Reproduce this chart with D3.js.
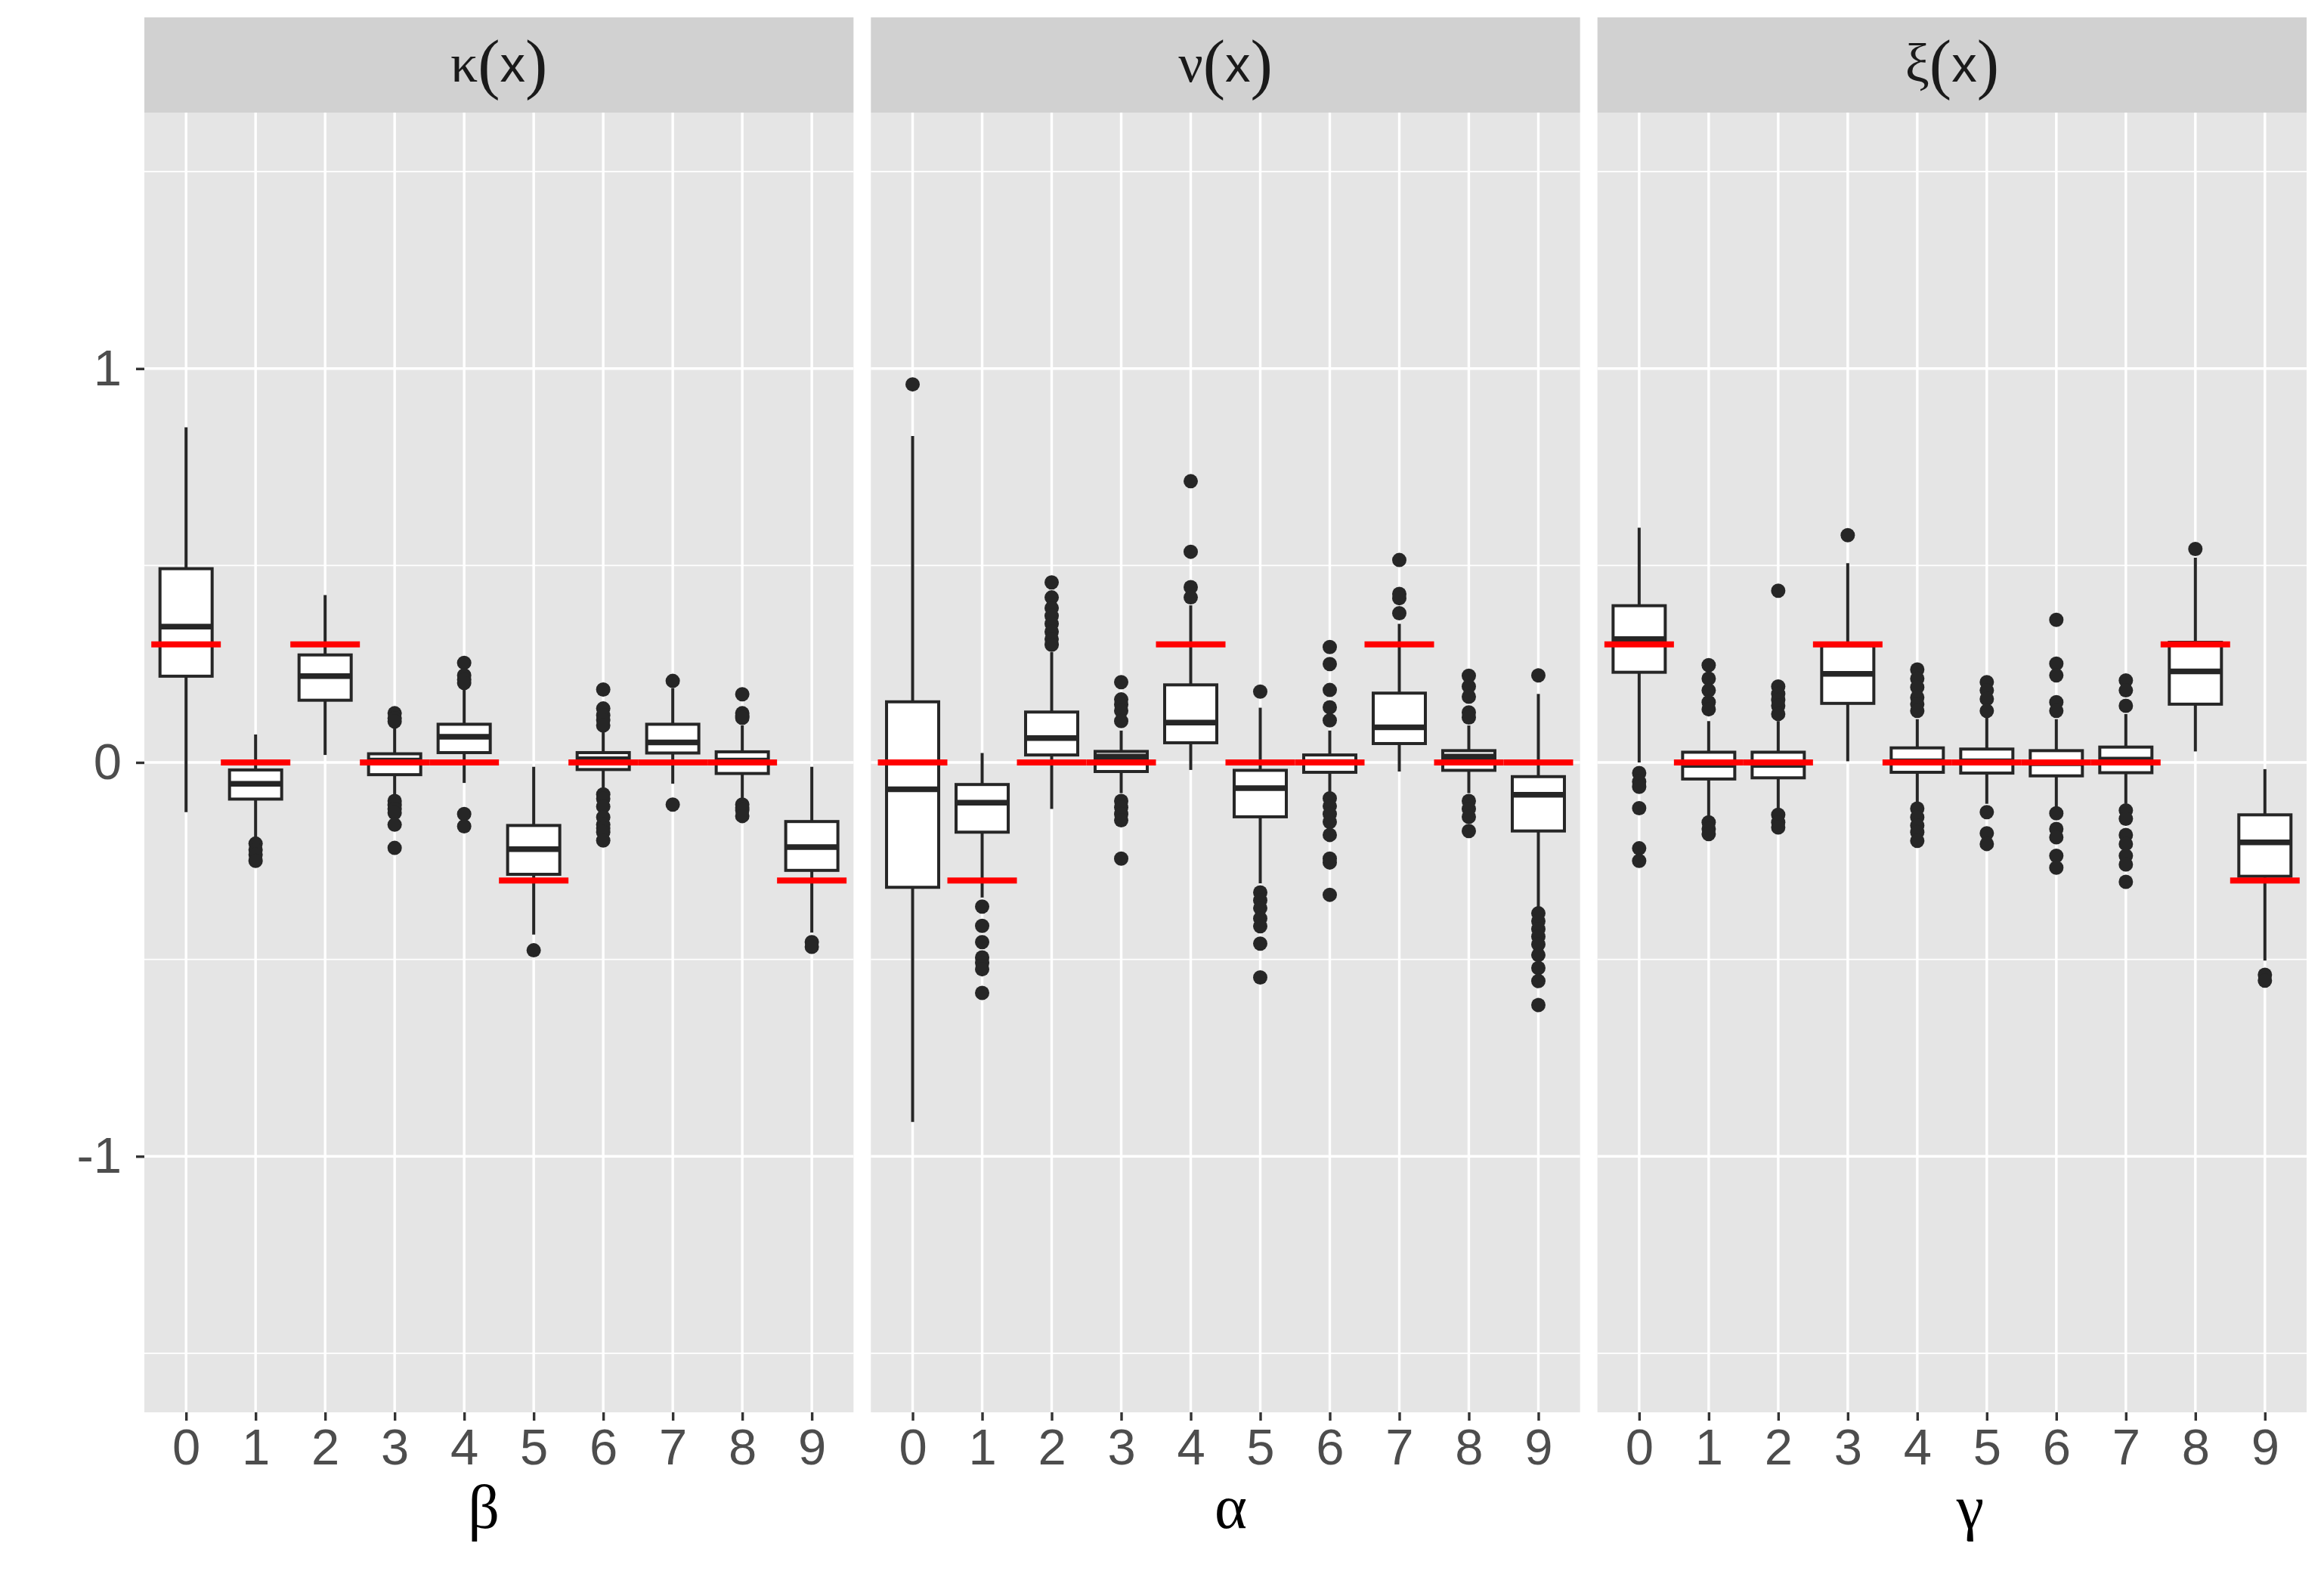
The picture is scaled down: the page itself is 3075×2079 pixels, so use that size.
<!DOCTYPE html>
<html>
<head>
<meta charset="UTF-8">
<script src="https://d3js.org/d3.v7.min.js"></script>
<style>
  body { margin: 0; background: white; }
  svg { display: block; }
</style>
</head>
<body>
<svg id="chart" width="3075" height="2079"></svg>
<script>
// categories on the x axis of every panel
const categories = ["0", "1", "2", "3", "4", "5", "6", "7", "8", "9"];
const yTicks = [-1, 0, 1];
const yMinor = [-1.5, -0.5, 0.5, 1.5];
const stripGreek = ["κ", "ν", "ξ"];
const axisTitles = ["β", "α", "γ"];

// box stats per category: [lower whisker, q1, median, q3, upper whisker]
const kappaStats = [
  [-0.126, 0.219, 0.345, 0.492, 0.851],
  [-0.19, -0.093, -0.054, -0.019, 0.071],
  [0.019, 0.158, 0.219, 0.273, 0.425],
  [-0.085, -0.031, 0.005, 0.022, 0.09],
  [-0.052, 0.025, 0.065, 0.097, 0.185],
  [-0.437, -0.284, -0.22, -0.16, -0.011],
  [-0.064, -0.018, 0.008, 0.025, 0.079],
  [-0.054, 0.024, 0.051, 0.097, 0.189],
  [-0.093, -0.028, 0.005, 0.027, 0.094],
  [-0.432, -0.274, -0.215, -0.15, -0.011]
];
const kappaOutliers = [
  [],
  [-0.206, -0.222, -0.234, -0.25],
  [],
  [0.125, 0.112, 0.104, -0.098, -0.108, -0.118, -0.128, -0.158, -0.217],
  [0.253, 0.221, 0.21, 0.202, -0.131, -0.162],
  [-0.477],
  [0.185, 0.137, 0.12, 0.108, 0.094, -0.081, -0.092, -0.112, -0.139, -0.158, -0.167, -0.177, -0.198],
  [0.207, -0.107],
  [0.173, 0.125, 0.118, 0.113, -0.107, -0.115, -0.121, -0.136],
  [-0.456, -0.468]
];
const kappaTrue = [0.3, 0, 0.3, 0, 0, -0.3, 0, 0, 0, -0.3];

const nuStats = [
  [-0.913, -0.317, -0.068, 0.154, 0.829],
  [-0.343, -0.177, -0.102, -0.056, 0.024],
  [-0.118, 0.019, 0.062, 0.128, 0.28],
  [-0.078, -0.023, 0.015, 0.028, 0.081],
  [-0.019, 0.05, 0.101, 0.197, 0.399],
  [-0.307, -0.138, -0.065, -0.02, 0.139],
  [-0.078, -0.025, 0.001, 0.019, 0.081],
  [-0.023, 0.048, 0.089, 0.176, 0.352],
  [-0.078, -0.02, 0.015, 0.03, 0.094],
  [-0.37, -0.174, -0.082, -0.036, 0.174]
];
const nuOutliers = [
  [0.96],
  [-0.366, -0.415, -0.456, -0.495, -0.509, -0.525, -0.585],
  [0.457, 0.419, 0.392, 0.372, 0.352, 0.332, 0.313, 0.299],
  [0.204, 0.16, 0.147, 0.131, 0.105, -0.098, -0.114, -0.131, -0.147, -0.244],
  [0.714, 0.535, 0.445, 0.419],
  [0.18, -0.33, -0.35, -0.37, -0.396, -0.416, -0.46, -0.546],
  [0.293, 0.25, 0.184, 0.14, 0.107, -0.091, -0.111, -0.131, -0.151, -0.184, -0.244, -0.254, -0.336],
  [0.514, 0.428, 0.417, 0.379],
  [0.22, 0.193, 0.167, 0.127, 0.114, -0.098, -0.118, -0.138, -0.174],
  [0.221, -0.383, -0.403, -0.423, -0.442, -0.462, -0.489, -0.522, -0.555, -0.616]
];
const nuTrue = [0, -0.3, 0, 0, 0.3, 0, 0, 0.3, 0, 0];

const xiStats = [
  [0.0, 0.229, 0.313, 0.398, 0.596],
  [-0.139, -0.042, -0.006, 0.026, 0.105],
  [-0.117, -0.039, -0.006, 0.026, 0.105],
  [0.003, 0.15, 0.225, 0.296, 0.506],
  [-0.105, -0.025, 0.003, 0.037, 0.11],
  [-0.105, -0.027, 0.003, 0.034, 0.114],
  [-0.113, -0.034, -0.002, 0.03, 0.11],
  [-0.105, -0.026, 0.007, 0.039, 0.123],
  [0.028, 0.148, 0.231, 0.305, 0.52],
  [-0.503, -0.289, -0.203, -0.133, -0.017]
];
const xiOutliers = [
  [-0.027, -0.049, -0.062, -0.116, -0.218, -0.25],
  [0.247, 0.213, 0.183, 0.153, 0.135, -0.152, -0.169, -0.182],
  [0.436, 0.193, 0.174, 0.159, 0.144, 0.123, -0.133, -0.152, -0.165],
  [0.577],
  [0.236, 0.213, 0.191, 0.165, 0.148, 0.131, -0.117, -0.139, -0.16, -0.177, -0.199],
  [0.204, 0.183, 0.161, 0.131, -0.126, -0.18, -0.207],
  [0.362, 0.251, 0.221, 0.153, 0.131, -0.129, -0.169, -0.19, -0.237, -0.267],
  [0.208, 0.183, 0.144, -0.122, -0.143, -0.184, -0.207, -0.237, -0.259, -0.303],
  [0.542],
  [-0.539, -0.554]
];
const xiTrue = [0.3, 0, 0, 0.3, 0, 0, 0, 0, 0.3, -0.3];

const panels = [
  { stats: kappaStats, outliers: kappaOutliers, truth: kappaTrue },
  { stats: nuStats, outliers: nuOutliers, truth: nuTrue },
  { stats: xiStats, outliers: xiOutliers, truth: xiTrue }
];

// layout
const plotLeft = 191, plotRight = 3052, gap = 23;
const stripTop = 23, panelTop = 149, panelBottom = 1869;
const panelW = (plotRight - plotLeft - 2 * gap) / 3;
const titleShift = [-20, 7, 24];
const sans = "'Liberation Sans', Arial, sans-serif";
const serif = "'Liberation Serif', 'Times New Roman', serif";
const ink = "#262626";

const svg = d3.select("#chart");
svg.append("rect").attr("width", 3075).attr("height", 2079).attr("fill", "white");

const y = d3.scaleLinear().domain([-1.65, 1.65]).range([panelBottom, panelTop]);

panels.forEach((p, i) => {
  const left = plotLeft + i * (panelW + gap);
  const right = left + panelW;
  const x = d3.scalePoint().domain(categories).range([left, right]).padding(0.6);
  const step = x.step();
  const boxW = step * 0.75;

  const g = svg.append("g");

  // strip
  g.append("rect")
    .attr("x", left).attr("y", stripTop)
    .attr("width", panelW).attr("height", panelTop - stripTop)
    .attr("fill", "#D1D1D1");

  const st = g.append("text")
    .attr("x", (left + right) / 2)
    .attr("y", (stripTop + panelTop) / 2 + 22)
    .attr("text-anchor", "middle")
    .attr("fill", "#1A1A1A");
  st.append("tspan").attr("font-family", serif).attr("font-size", 72).text(stripGreek[i]);
  st.append("tspan").attr("font-family", serif).attr("font-size", 88).attr("dy", 6).text("(");
  st.append("tspan").attr("font-family", sans).attr("font-size", 67).attr("dy", -6).text("x");
  st.append("tspan").attr("font-family", serif).attr("font-size", 88).attr("dy", 6).text(")");

  // panel background
  g.append("rect")
    .attr("x", left).attr("y", panelTop)
    .attr("width", panelW).attr("height", panelBottom - panelTop)
    .attr("fill", "#E5E5E5");

  // grid
  g.selectAll(".minor").data(yMinor).enter().append("line")
    .attr("x1", left).attr("x2", right)
    .attr("y1", d => y(d)).attr("y2", d => y(d))
    .attr("stroke", "white").attr("stroke-width", 1.7);
  g.selectAll(".major").data(yTicks).enter().append("line")
    .attr("x1", left).attr("x2", right)
    .attr("y1", d => y(d)).attr("y2", d => y(d))
    .attr("stroke", "white").attr("stroke-width", 3.4);
  g.selectAll(".vgrid").data(categories).enter().append("line")
    .attr("x1", d => x(d)).attr("x2", d => x(d))
    .attr("y1", panelTop).attr("y2", panelBottom)
    .attr("stroke", "white").attr("stroke-width", 3.4);

  const rows = categories.map((c, k) => ({ c, s: p.stats[k], o: p.outliers[k], t: p.truth[k] }));

  // outliers
  rows.forEach(r => {
    g.selectAll(null).data(r.o).enter().append("circle")
      .attr("cx", x(r.c)).attr("cy", d => y(d))
      .attr("r", 9.5).attr("fill", ink);
  });

  // whiskers
  const whisk = g.selectAll(".wh").data(rows).enter();
  whisk.append("line")
    .attr("x1", d => x(d.c)).attr("x2", d => x(d.c))
    .attr("y1", d => y(d.s[4])).attr("y2", d => y(d.s[3]))
    .attr("stroke", ink).attr("stroke-width", 4);
  whisk.append("line")
    .attr("x1", d => x(d.c)).attr("x2", d => x(d.c))
    .attr("y1", d => y(d.s[1])).attr("y2", d => y(d.s[0]))
    .attr("stroke", ink).attr("stroke-width", 4);

  // boxes
  g.selectAll(".box").data(rows).enter().append("rect")
    .attr("x", d => x(d.c) - boxW / 2)
    .attr("y", d => y(d.s[3]))
    .attr("width", boxW)
    .attr("height", d => y(d.s[1]) - y(d.s[3]))
    .attr("fill", "white").attr("stroke", ink).attr("stroke-width", 4);

  // medians
  g.selectAll(".med").data(rows).enter().append("line")
    .attr("x1", d => x(d.c) - boxW / 2).attr("x2", d => x(d.c) + boxW / 2)
    .attr("y1", d => y(d.s[2])).attr("y2", d => y(d.s[2]))
    .attr("stroke", ink).attr("stroke-width", 7.5);

  // true values
  g.selectAll(".truth").data(rows).enter().append("line")
    .attr("x1", d => x(d.c) - step / 2).attr("x2", d => x(d.c) + step / 2)
    .attr("y1", d => y(d.t)).attr("y2", d => y(d.t))
    .attr("stroke", "#FF0000").attr("stroke-width", 8);

  // x axis
  const xa = g.append("g")
    .attr("transform", `translate(0,${panelBottom})`)
    .call(d3.axisBottom(x).tickSize(11).tickPadding(10));
  xa.select(".domain").remove();
  xa.selectAll(".tick line").attr("stroke", "#333333").attr("stroke-width", 3.4);
  xa.selectAll(".tick text")
    .attr("font-family", sans).attr("font-size", 67).attr("fill", "#4D4D4D");

  // axis title
  g.append("text")
    .attr("x", (left + right) / 2 + titleShift[i])
    .attr("y", 2022)
    .attr("text-anchor", "middle")
    .attr("font-family", serif).attr("font-size", 82).attr("fill", "black")
    .text(axisTitles[i]);

  // y axis on the first panel only
  if (i === 0) {
    const ya = g.append("g")
      .attr("transform", `translate(${left},0)`)
      .call(d3.axisLeft(y).tickValues(yTicks).tickSize(11).tickPadding(19).tickFormat(d => String(d)));
    ya.select(".domain").remove();
    ya.selectAll(".tick line").attr("stroke", "#333333").attr("stroke-width", 3.4);
    ya.selectAll(".tick text")
      .attr("font-family", sans).attr("font-size", 67).attr("fill", "#4D4D4D");
  }
});
</script>
</body>
</html>
